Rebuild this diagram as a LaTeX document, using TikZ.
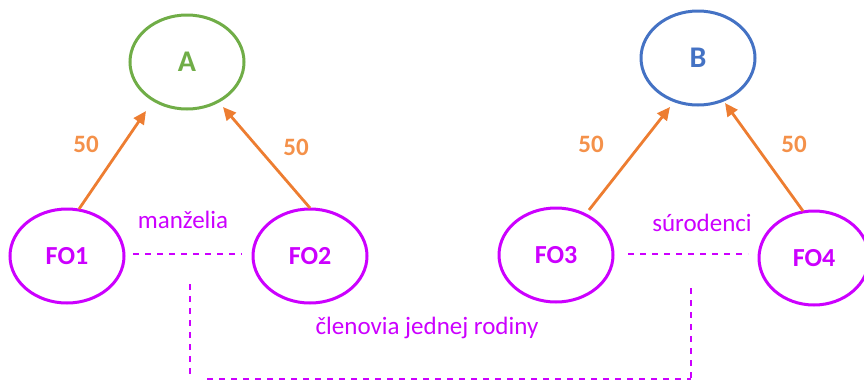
\documentclass[tikz,border=0pt]{standalone}
\usepackage{fontspec}
\setmainfont{Carlito}
\usetikzlibrary{arrows.meta,shapes.geometric}
\definecolor{cgreen}{HTML}{70AD47}
\definecolor{cblue}{HTML}{4472C4}
\definecolor{corange}{HTML}{ED7D31}
\definecolor{clabel}{HTML}{F4914A}
\definecolor{cpurple}{HTML}{CC00FF}
\tikzset{
  ell/.style={ellipse, draw, line width=3pt, minimum width=114pt, minimum height=94pt, inner sep=0pt},
  fo/.style={ell, draw=cpurple, text=cpurple, font=\fontsize{26}{30}\selectfont\bfseries},
  own/.style={ell, font=\fontsize{30}{34}\selectfont\bfseries},
  share/.style={draw=corange, line width=2.8pt, -{Triangle[length=13pt,width=12pt]}},
  num/.style={text=clabel, font=\fontsize{25}{29}\selectfont\bfseries},
  rel/.style={text=cpurple, font=\fontsize{25}{29}\selectfont},
  dashline/.style={draw=cpurple, line width=1.8pt, dash pattern=on 6pt off 6pt},
}
\begin{document}
\begin{tikzpicture}[x=1pt,y=-1pt]
\useasboundingbox (0,0) rectangle (864,381);
\node[own, draw=cgreen, text=cgreen] (A) at (187,62) {A};
\node[own, draw=cblue, text=cblue] (B) at (698,58) {B};
\node[fo] (F1) at (67,256) {FO1};
\node[fo] (F2) at (310,256) {FO2};
\node[fo] (F3) at (556,255) {FO3};
\node[fo, minimum width=110pt] (F4) at (814,258) {FO4};
\coordinate (a1) at (146,111);
\coordinate (a2) at (223,107);
\coordinate (b1) at (670,107);
\coordinate (b2) at (725,103);
\coordinate (s1) at (79,209);
\coordinate (s2) at (310,208);
\coordinate (s3) at (589,210);
\coordinate (s4) at (803,211);
\draw[share] (s1) -- (a1);
\draw[share] (s2) -- (a2);
\draw[share] (s3) -- (b1);
\draw[share] (s4) -- (b2);
\node[num] (n1) at (86,144) {50};
\node[num] (n2) at (296,147) {50};
\node[num] (n3) at (591,144) {50};
\node[num] (n4) at (794,144) {50};
\node[rel] (m) at (183,220) {manželia};
\node[rel] (s) at (702,223) {súrodenci};
\node[rel] (c) at (427,328) {členovia jednej rodiny};
\coordinate (d1a) at (133,254);
\coordinate (d1b) at (242,254);
\coordinate (d2a) at (628,254);
\coordinate (d2b) at (748,254);
\draw[dashline] (d1a) -- (d1b);
\draw[dashline] (d2a) -- (d2b);
\coordinate (v1) at (190,284);
\coordinate (v2) at (691,288);
\coordinate (h1) at (190,379);
\coordinate (h2) at (691,379);
\draw[dashline] (v1) -- (h1);
\draw[dashline] (v2) -- (h2);
\draw[dashline, line width=1.3pt] ([xshift=17pt]h1) -- (h2);
\end{tikzpicture}
\end{document}
